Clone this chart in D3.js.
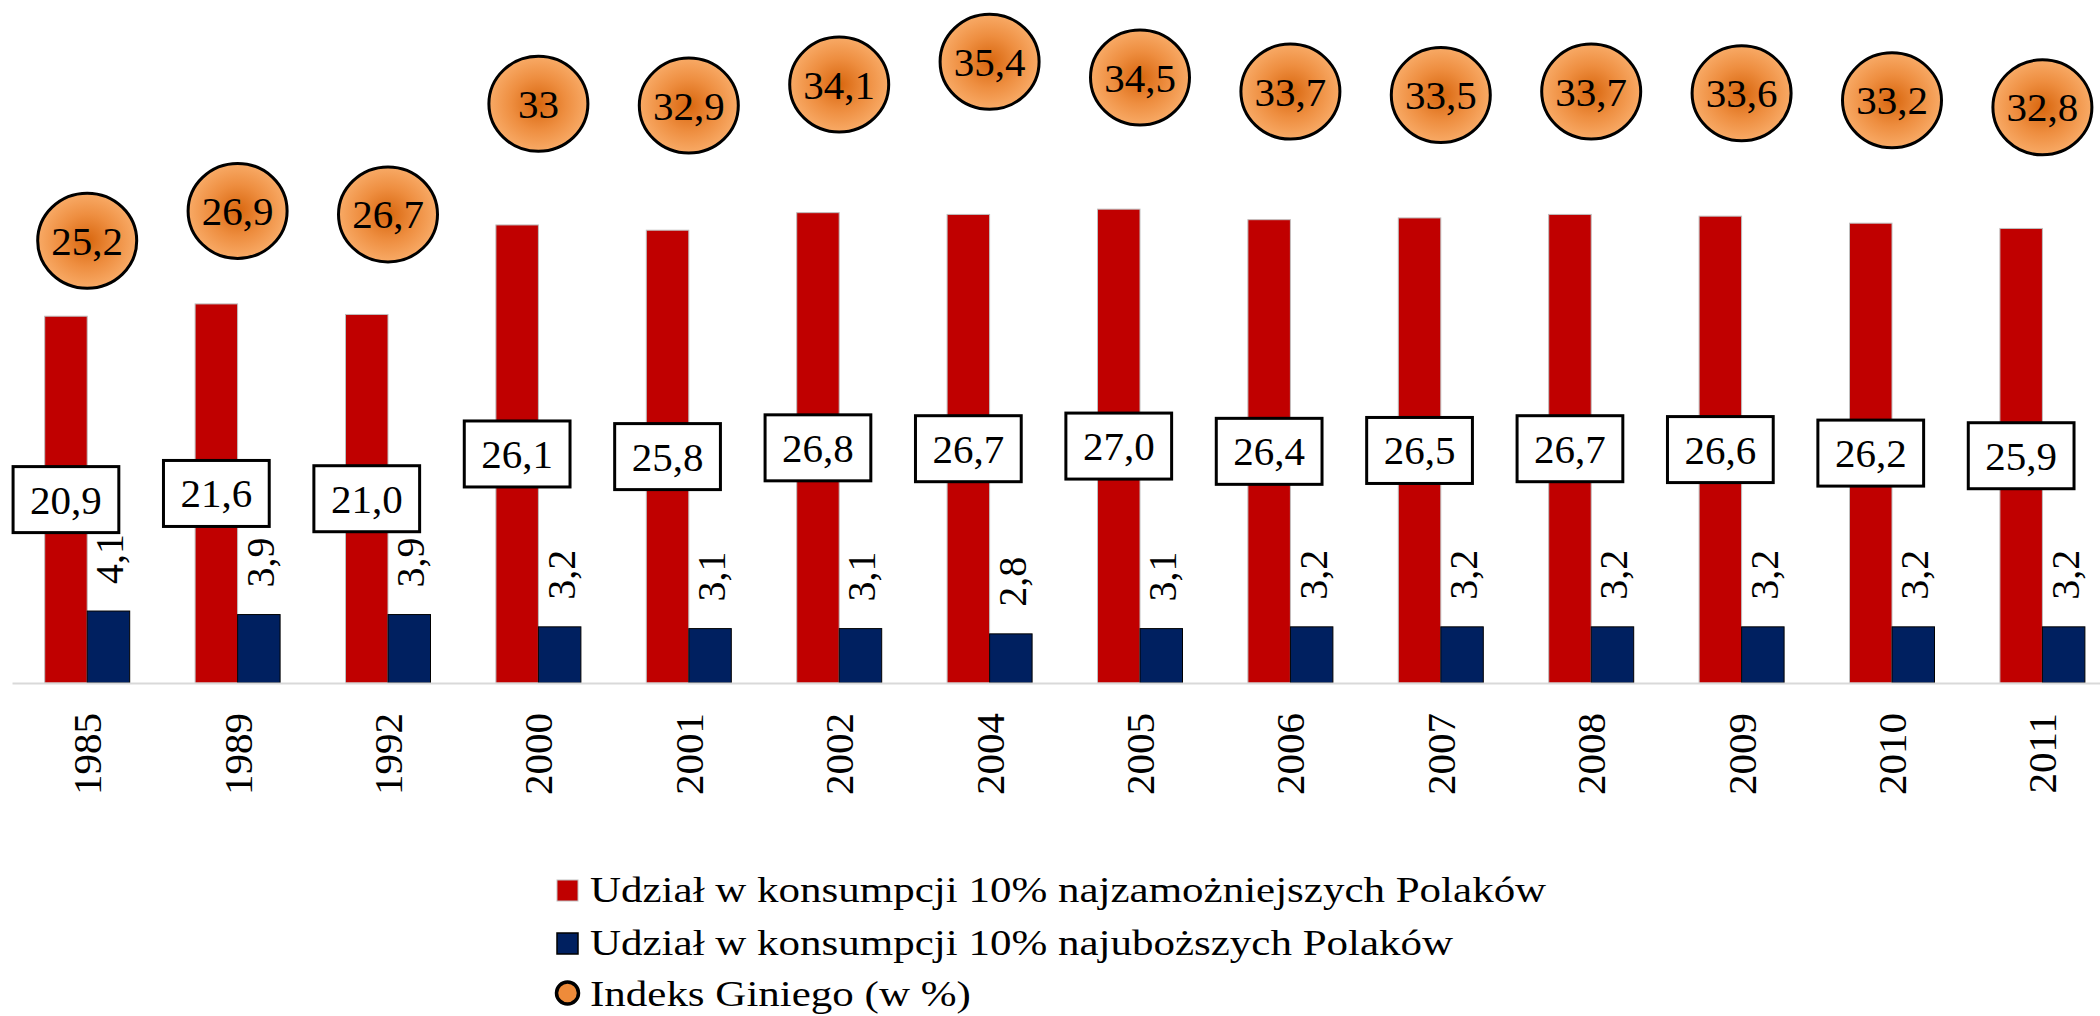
<!DOCTYPE html>
<html>
<head>
<meta charset="utf-8">
<script src="https://cdn.jsdelivr.net/npm/d3@7"></script>
<style>
  html, body { margin: 0; padding: 0; background: #ffffff; }
  svg { display: block; }
  svg text { font-family: 'Liberation Serif', 'Times New Roman', Times, 'DejaVu Serif', serif !important; fill: #000; }
</style>
</head>
<body>
<svg id="chart" width="2100" height="1016"></svg>
<script>
// ---- Data ----
const years = ["1985", "1989", "1992", "2000", "2001", "2002", "2004", "2005", "2006", "2007", "2008", "2009", "2010", "2011"];
const richest10 = [20.9, 21.6, 21.0, 26.1, 25.8, 26.8, 26.7, 27.0, 26.4, 26.5, 26.7, 26.6, 26.2, 25.9];
const poorest10 = [4.1, 3.9, 3.9, 3.2, 3.1, 3.1, 2.8, 3.1, 3.2, 3.2, 3.2, 3.2, 3.2, 3.2];
const giniIndex = [25.2, 26.9, 26.7, 33, 32.9, 34.1, 35.4, 34.5, 33.7, 33.5, 33.7, 33.6, 33.2, 32.8];
const seriesKeys = ["rich", "poor"];
const legendLabels = [
  "Udział w konsumpcji 10% najzamożniejszych Polaków",
  "Udział w konsumpcji 10% najuboższych Polaków",
  "Indeks Giniego (w %)"
];

// ---- Styles ----
const RED = "#C00000", NAVY = "#002060";
const FONT = "'Liberation Serif', 'Times New Roman', Times, 'DejaVu Serif', serif";
const svg = d3.select("#chart");
const baseY = 683;

const x = d3.scaleBand().domain(years).range([12, 12 + 14 * 150.4]).padding(0);
const bw = x.bandwidth();
const x1 = d3.scaleBand().domain(seriesKeys).range([bw / 2 - 42.5, bw / 2 + 42.5]).padding(0);
const y = d3.scaleLinear().domain([0, 40]).range([baseY, baseY - 40 * 17.55]);

const fmt1 = v => d3.format(".1f")(v).replace(".", ",");
const fmtGen = v => String(v).replace(".", ",");

// gradient for Gini markers
const defs = svg.append("defs");
const grad = defs.append("radialGradient").attr("id", "giniGrad")
  .attr("cx", "50%").attr("cy", "50%").attr("r", "50%");
grad.append("stop").attr("offset", "0%").attr("stop-color", "#D8660E");
grad.append("stop").attr("offset", "55%").attr("stop-color", "#EE8E40");
grad.append("stop").attr("offset", "100%").attr("stop-color", "#F8AA66");

const data = years.map((yr, i) => ({ yr, rich: richest10[i], poor: poorest10[i], gini: giniIndex[i] }));

// ---- Axis ----
const xAxis = d3.axisBottom(x).tickSize(0).tickSizeOuter(0);
const axisG = svg.append("g").attr("transform", `translate(0,${baseY})`).call(xAxis)
  .attr("font-family", FONT);
axisG.select(".domain").attr("stroke", "#D9D9D9").attr("stroke-width", 2);
axisG.selectAll(".tick text")
  .attr("transform", "rotate(-90)")
  .attr("x", -30).attr("y", 14).attr("dy", 0)
  .attr("text-anchor", "end")
  .attr("font-family", FONT)
  .style("font-size", "41px");

// ---- Bars ----
const groups = svg.append("g").attr("font-family", FONT).selectAll("g.grp").data(data).join("g")
  .attr("class", "grp").attr("transform", d => `translate(${x(d.yr)},0)`);

groups.append("rect")
  .attr("x", x1("rich")).attr("width", x1.bandwidth())
  .attr("y", d => y(d.rich)).attr("height", d => y(0) - y(d.rich))
  .attr("fill", RED).attr("stroke", "#BFBFBF").attr("stroke-width", 1);

groups.append("rect")
  .attr("x", x1("poor")).attr("width", x1.bandwidth())
  .attr("y", d => y(d.poor)).attr("height", d => y(0) - y(d.poor))
  .attr("fill", NAVY).attr("stroke", "#000").attr("stroke-width", 1);

axisG.raise();

// ---- Poorest labels (rotated) ----
groups.append("text")
  .attr("transform", d => `translate(${x1("poor") + x1.bandwidth() / 2 + 15},${y(d.poor) - 27}) rotate(-90)`)
  .attr("text-anchor", "start")
  .style("font-size", "40px")
  .text(d => fmt1(d.poor));

// ---- Richest labels (boxed, centered in bar) ----
const boxG = groups.append("g")
  .attr("transform", d => `translate(${x1("rich") + x1.bandwidth() / 2},${(y(d.rich) + y(0)) / 2})`);
boxG.append("rect").attr("class", "lblbox");
boxG.append("text")
  .attr("text-anchor", "middle").attr("y", 14)
  .style("font-size", "41px")
  .text(d => fmt1(d.rich));
boxG.each(function () {
  const g = d3.select(this);
  const w = g.select("text").node().getComputedTextLength() + 34;
  g.select("rect").attr("x", -w / 2).attr("y", -33).attr("width", w).attr("height", 66)
    .attr("fill", "#fff").attr("stroke", "#000").attr("stroke-width", 3);
});

// ---- Gini markers ----
const gG = groups.append("g")
  .attr("transform", d => `translate(${bw / 2},${y(d.gini)})`);
gG.append("ellipse").attr("rx", 49.5).attr("ry", 47.5)
  .attr("fill", "url(#giniGrad)").attr("stroke", "#000").attr("stroke-width", 3);
gG.append("text").attr("text-anchor", "middle").attr("y", 14)
  .style("font-size", "41px")
  .text(d => fmtGen(d.gini));

// ---- Legend ----
const legend = svg.append("g").attr("font-family", FONT);
const legendBase = [902, 955, 1006];
const swatches = [
  { type: "rect", fill: RED, stroke: "#BFBFBF", sw: 1 },
  { type: "rect", fill: NAVY, stroke: "#000", sw: 1.5 },
  { type: "circle", fill: "#EE8B3A", stroke: "#000", sw: 3.5 }
];
legendLabels.forEach((lab, i) => {
  const s = swatches[i];
  if (s.type === "rect") {
    legend.append("rect").attr("x", 557).attr("y", legendBase[i] - 22).attr("width", 21).attr("height", 21)
      .attr("fill", s.fill).attr("stroke", s.stroke).attr("stroke-width", s.sw);
  } else {
    legend.append("circle").attr("cx", 567.5).attr("cy", legendBase[i] - 13).attr("r", 11)
      .attr("fill", s.fill).attr("stroke", s.stroke).attr("stroke-width", s.sw);
  }
  legend.append("text")
    .attr("transform", `translate(590,${legendBase[i]}) scale(1,0.85)`)
    .style("font-size", "43px")
    .text(lab);
});
</script>
</body>
</html>
